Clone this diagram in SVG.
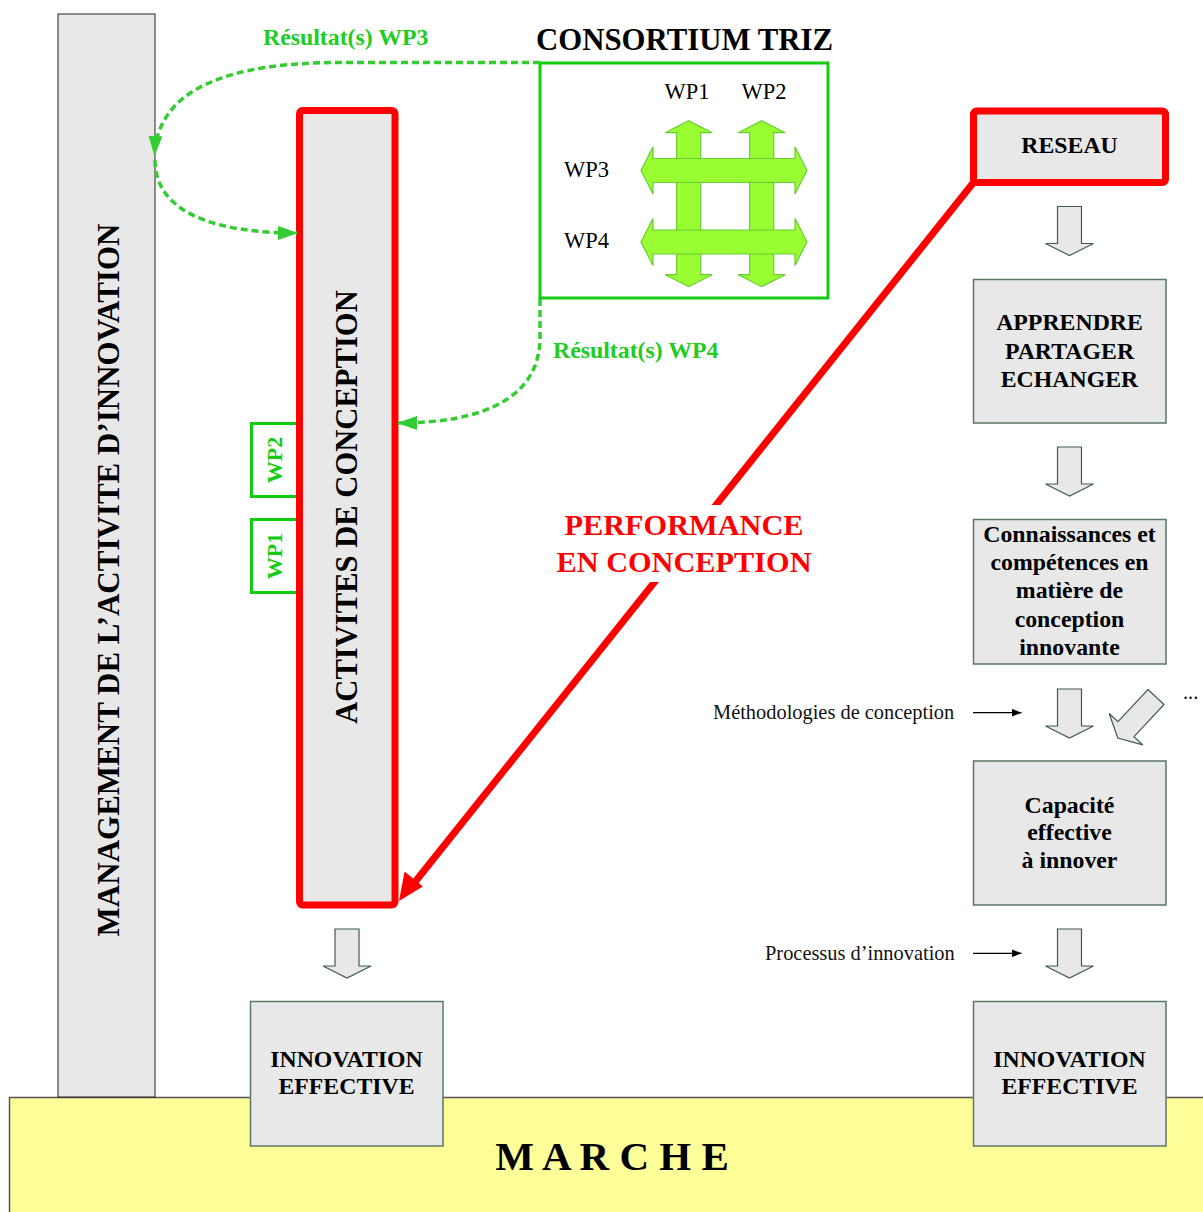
<svg xmlns="http://www.w3.org/2000/svg" width="1203" height="1212" viewBox="0 0 1203 1212">
<style>
text{font-family:"Liberation Serif","Times New Roman",serif;}
.b{font-weight:bold;}
.box{fill:#e8e8e8;stroke:#587868;stroke-width:1.5;}
.red{fill:#e8e8e8;stroke:#ff0000;stroke-width:7;}
.darr{fill:#e8e8e8;stroke:#3d5d4d;stroke-width:1.2;}
.garr{fill:#99ff33;stroke:#66cc33;stroke-width:1.2;}
.gdash{fill:none;stroke:#33cc33;stroke-width:3.5;stroke-dasharray:7 4;}
.gt{fill:#22cc22;font-weight:bold;font-size:23.8px;}
.lbl{font-size:23.8px;font-weight:bold;text-anchor:middle;fill:#000;}
.sm{font-size:20.4px;fill:#111;}
</style>
<defs>
<path id="darr" d="M-12,0 H12 V37 H24 L0,49 L-24,37 H-12 Z"/>
<path id="gx" d="M0,-83 L23.5,-71 H12 V71 H23.5 L0,83 L-23.5,71 H-12 V-71 H-23.5 Z"/>
<marker id="mg" viewBox="0 0 20 14" refX="19" refY="7" markerWidth="20" markerHeight="14" markerUnits="userSpaceOnUse" orient="auto">
<path d="M0,0 L20,7 L0,14 Z" fill="#33cc33"/>
</marker>
<marker id="mk" viewBox="0 0 10 8" refX="10" refY="4" markerWidth="10" markerHeight="8" markerUnits="userSpaceOnUse" orient="auto">
<path d="M0,0 L10,4 L0,8 Z" fill="#000"/>
</marker>
</defs>

<g id="marche">
<rect x="9.5" y="1097.5" width="1200" height="120" fill="#ffff99" stroke="#555" stroke-width="1.5"/>
<text x="612" y="1170" font-size="41" class="b" text-anchor="middle">M A R C H E</text>
</g>

<g id="management">
<rect x="58" y="14" width="97" height="1083" fill="#e8e8e8" stroke="#222" stroke-width="1"/>
<text transform="translate(118.5,580) rotate(-90)" font-size="31" class="b" text-anchor="middle">MANAGEMENT DE L’ACTIVITE D’INNOVATION</text>
</g>

<g id="wp2-tab">
<path d="M298,423.5 H251.5 V496.5 H298" fill="none" stroke="#11cc11" stroke-width="3"/>
<text transform="translate(282,460) rotate(-90)" font-size="22" class="b" fill="#11cc11" text-anchor="middle">WP2</text>
</g>
<g id="wp1-tab">
<path d="M298,519.5 H251.5 V592.5 H298" fill="none" stroke="#11cc11" stroke-width="3"/>
<text transform="translate(282,556) rotate(-90)" font-size="22" class="b" fill="#11cc11" text-anchor="middle">WP1</text>
</g>

<g id="activites">
<rect class="red" x="299.5" y="110.5" width="95.5" height="794.5" rx="3"/>
<text transform="translate(357,507) rotate(-90)" font-size="30.6" class="b" text-anchor="middle">ACTIVITES DE CONCEPTION</text>
</g>

<g id="consortium">
<text x="684.5" y="50" font-size="30.8" class="b" text-anchor="middle">CONSORTIUM TRIZ</text>
<rect x="540" y="63" width="288" height="235" fill="#fff" stroke="#11cc11" stroke-width="3"/>
<use href="#gx" class="garr" transform="translate(688.7,203.7)"/>
<use href="#gx" class="garr" transform="translate(761.7,203.7)"/>
<use href="#gx" class="garr" transform="translate(724,170.5) rotate(90)"/>
<use href="#gx" class="garr" transform="translate(724,242) rotate(90)"/>
<text x="687" y="99" font-size="22.5" text-anchor="middle">WP1</text>
<text x="764" y="99" font-size="22.5" text-anchor="middle">WP2</text>
<text x="564" y="177" font-size="22.5">WP3</text>
<text x="564" y="248" font-size="22.5">WP4</text>
</g>

<g id="reseau">
<rect class="red" x="973.5" y="111" width="192" height="71.5" rx="3"/>
<text class="lbl" x="1069.5" y="153">RESEAU</text>
</g>

<g id="apprendre">
<rect class="box" x="973.5" y="279.5" width="192.5" height="143.5"/>
<text class="lbl" x="1069.5" y="330">APPRENDRE</text>
<text class="lbl" x="1069.5" y="359">PARTAGER</text>
<text class="lbl" x="1069.5" y="387">ECHANGER</text>
</g>

<g id="connaissances">
<rect class="box" x="973.5" y="519.5" width="192.5" height="144.5"/>
<text class="lbl" x="1069.5" y="541.7">Connaissances et</text>
<text class="lbl" x="1069.5" y="570">compétences en</text>
<text class="lbl" x="1069.5" y="598.3">matière de</text>
<text class="lbl" x="1069.5" y="626.7">conception</text>
<text class="lbl" x="1069.5" y="655">innovante</text>
</g>

<g id="capacite">
<rect class="box" x="973.5" y="761" width="192.5" height="144"/>
<text class="lbl" x="1069.5" y="812.7">Capacité</text>
<text class="lbl" x="1069.5" y="840">effective</text>
<text class="lbl" x="1069.5" y="868.3">à innover</text>
</g>

<g id="innovation-right">
<rect class="box" x="973.5" y="1001.5" width="192.5" height="144.5"/>
<text class="lbl" x="1069.5" y="1066.7">INNOVATION</text>
<text class="lbl" x="1069.5" y="1094.3">EFFECTIVE</text>
</g>

<g id="innovation-left">
<rect class="box" x="250.5" y="1001.5" width="192.5" height="144.5"/>
<text class="lbl" x="346.5" y="1066.7">INNOVATION</text>
<text class="lbl" x="346.5" y="1094.3">EFFECTIVE</text>
</g>

<g id="connectors">
<path class="gdash" d="M540,62.5 L340,62.5 C230,62.5 158,88 154.5,155" marker-end="url(#mg)"/>
<path class="gdash" d="M155,160 C155,215 220,233 297,233" marker-end="url(#mg)"/>
<path class="gdash" d="M540,299 L540,340 C538,400 480,423 398,423" marker-end="url(#mg)"/>
<text class="gt" x="263" y="45">Résultat(s) WP3</text>
<text class="gt" x="553" y="358">Résultat(s) WP4</text>

<line x1="973.5" y1="182.5" x2="413" y2="884.5" stroke="#ff0000" stroke-width="7" stroke-linecap="round"/>
<polygon points="399,901 404.6,871.6 422.9,886.4" fill="#ff0000"/>
<rect x="555" y="505" width="260" height="77" fill="#fff"/>
<text x="684" y="535" font-size="30.3" class="b" fill="#ff0000" text-anchor="middle">PERFORMANCE</text>
<text x="684" y="572" font-size="30.3" class="b" fill="#ff0000" text-anchor="middle">EN CONCEPTION</text>

<use href="#darr" class="darr" transform="translate(1069.5,206.5)"/>
<use href="#darr" class="darr" transform="translate(1069.5,447)"/>
<use href="#darr" class="darr" transform="translate(1069.5,689)"/>
<use href="#darr" class="darr" transform="translate(1069.5,929)"/>
<use href="#darr" class="darr" transform="translate(347,929)"/>
<path class="darr" d="M-11,0 H11 V44 H23 L0,56 L-23,44 H-11 Z" transform="translate(1156,697) rotate(43)"/>

<text class="sm" x="713" y="719">Méthodologies de conception</text>
<line x1="973" y1="712.7" x2="1021.5" y2="712.7" stroke="#000" stroke-width="1.3" marker-end="url(#mk)"/>
<text class="sm" x="1183" y="699">...</text>
<text class="sm" x="765" y="960">Processus d’innovation</text>
<line x1="973" y1="953.3" x2="1021.5" y2="953.3" stroke="#000" stroke-width="1.3" marker-end="url(#mk)"/>
</g>
</svg>
